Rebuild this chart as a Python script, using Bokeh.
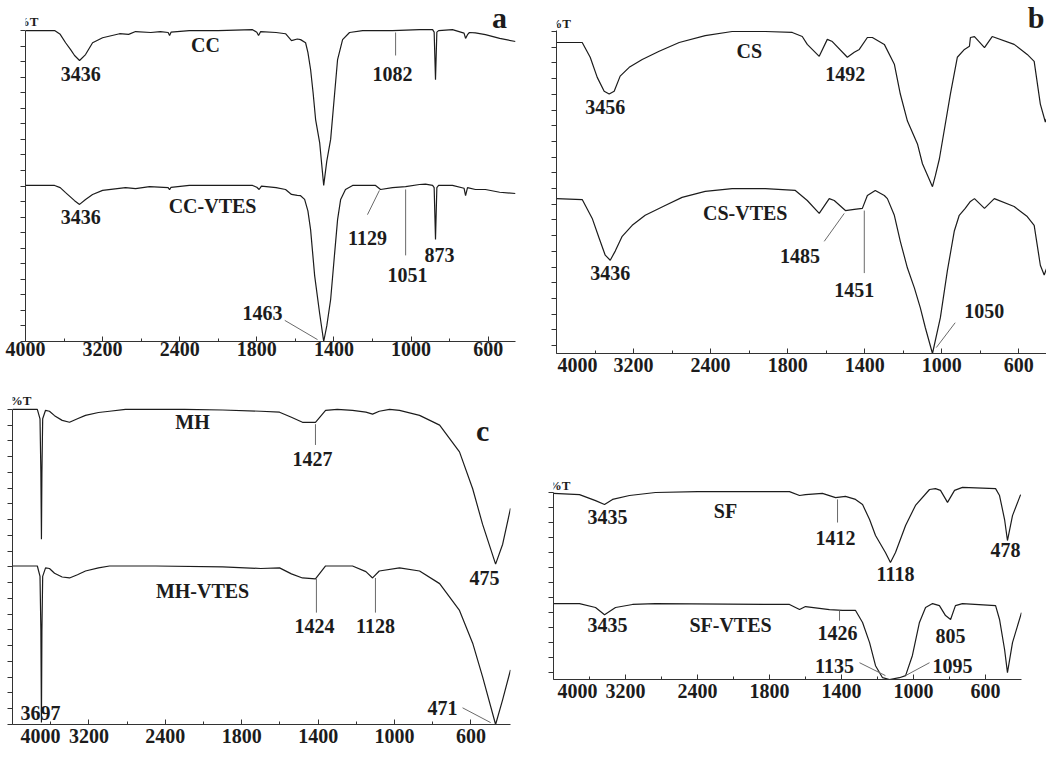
from bokeh.plotting import figure
from bokeh.models import Range1d, FixedTicker, CustomJSTickFormatter, Label, Spacer
from bokeh.layouts import row, column
from bokeh.embed import file_html
from bokeh.resources import INLINE

# ---------------- data (wavenumber cm-1, transmittance in panel units) ----------------
# Panel a: CC and CC-VTES
cc_wn = [4000, 3698, 3640, 3584, 3530, 3491, 3439, 3377, 3304, 3200, 3024, 2930, 2858, 2700, 2600, 2520,
         2505, 2490, 2300, 2000, 1822, 1800, 1791, 1780, 1700, 1651, 1620, 1590, 1573, 1547, 1535, 1521,
         1508, 1495, 1474, 1453, 1437, 1417, 1396, 1381, 1355, 1319, 1251, 1096, 956, 888, 880, 873, 866,
         857, 785, 725, 717, 707, 697, 666, 614, 540, 458]
cc_t = [100, 100, 98.8, 96.1, 93.8, 92, 90.4, 92.3, 96.1, 97.7, 99, 98.8, 99.7, 99.4, 99.7, 99.4,
        98.4, 99.5, 100, 100, 100.3, 99.5, 98.4, 99.7, 99.4, 99, 96.8, 97.3, 97.1, 96.1, 93, 87.5,
        80, 71.4, 64, 50.2, 58, 65, 80, 90.7, 97.1, 99.4, 100, 100, 100.3, 100.3, 99.5, 84.2, 99.5,
        100, 100.3, 99.2, 97.5, 98.7, 99.4, 99.3, 98.7, 97.5, 96.5]
ccv_wn = [4000, 3698, 3640, 3584, 3491, 3439, 3377, 3304, 3200, 2962, 2858, 2713, 2520, 2505, 2490, 2300,
          2000, 1822, 1800, 1788, 1776, 1700, 1651, 1620, 1590, 1573, 1552, 1535, 1521, 1500, 1474, 1453,
          1437, 1417, 1396, 1381, 1365, 1340, 1303, 1251, 1184, 1158, 1096, 1028, 956, 925, 888, 880, 873,
          866, 857, 785, 725, 717, 707, 666, 614, 540, 458]
ccv_t = [50.2, 50.2, 49.5, 47.9, 45.3, 44.1, 45.7, 47.3, 48.6, 49.5, 49.2, 49.8, 49.5, 48.8, 49.6, 50.2,
         50.2, 50.2, 49.6, 48.9, 50.0, 49.5, 48.9, 47.3, 47.0, 46.9, 45.7, 42, 36, 21.2, 9, 0,
         5, 13.5, 28.6, 39.2, 45.7, 48.9, 50.2, 50.2, 50.2, 48.9, 49.5, 49.8, 50.5, 50.6, 50.2, 49.5, 32.8,
         49.5, 50.2, 50.2, 49.3, 46.9, 49.5, 48.9, 48.9, 48, 47.6]

# Panel b: CS and CS-VTES
cs_wn = [4000, 3733, 3650, 3577, 3505, 3453, 3401, 3339, 3245, 3110, 2934, 2726, 2456, 2176, 1916,
         1776, 1724, 1698, 1636, 1594, 1568, 1490, 1454, 1428, 1386, 1360, 1298, 1246, 1215, 1178,
         1126, 1100, 1048, 1033, 1012, 955, 919, 882, 856, 851, 830, 778, 738, 624, 556,
         520, 488, 462, 436, 415]
cs_t = [96.5, 96.5, 91.8, 85.4, 81, 80.1, 81, 85.8, 88.6, 91.1, 93.7, 96.5, 98.7, 100, 100,
        99.7, 98.4, 95.9, 92.1, 97.5, 96.8, 91.8, 93.4, 94.3, 98.1, 98.1, 95.9, 89.6, 80.1, 71.5,
        64.2, 57.9, 50.6, 54.1, 59.5, 80.1, 91.8, 94.3, 95.3, 98.1, 98.4, 94.9, 98.4, 95.9, 92.7,
        90.5, 76.9, 71.2, 75.9, 80.1]
csv_wn = [4000, 3733, 3629, 3557, 3494, 3442, 3390, 3318, 3214, 3079, 2872, 2696, 2456, 2176, 1916,
          1760, 1698, 1636, 1584, 1558, 1500, 1454, 1412, 1386, 1345, 1298, 1282, 1246, 1215, 1178,
          1142, 1111, 1085, 1048, 1007, 971, 935, 909, 878, 851, 830, 778, 727, 624, 556,
          520, 488, 468, 436, 415]
csv_t = [46.8, 46.5, 40.5, 34.2, 28.8, 27.2, 30.1, 34.8, 38.3, 41.5, 44.6, 47.2, 49.1, 50, 50,
         49.4, 46.2, 42.1, 46.8, 46.2, 43, 43.4, 43.7, 47.8, 49.4, 47.8, 46.8, 41.5, 33.2, 24.7,
         18.4, 12, 5.7, -2.5, 8.9, 23.7, 36.4, 41.5, 43.7, 45.9, 46.8, 43.7, 46.8, 44.3, 41.1,
         38.3, 25.6, 22.5, 27.8, 32]

# Panel c: MH and MH-VTES
mh_wn = [4000, 3740, 3712, 3703, 3697, 3692, 3684, 3654, 3613, 3560, 3480, 3403, 3320, 3236, 3100,
         2984, 2817, 2500, 2200, 1900, 1700, 1602, 1540, 1482, 1414, 1361, 1300, 1220, 1150, 1115,
         1080, 1026, 974, 869, 764, 660, 591, 539, 471, 434, 393]
mh_t = [100, 100, 97, 80, 58.8, 80, 97, 99.7, 99.4, 98, 96.5, 95.9, 97, 98.1, 99,
        99.4, 100, 100, 100, 99.8, 99.4, 99.1, 97.5, 95.9, 95.9, 99.7, 100, 99.7, 99.1, 98.5,
        99.4, 100, 99.7, 98.1, 95, 86.5, 74.8, 63.5, 50.9, 57.2, 68.6]
mhv_wn = [4000, 3740, 3712, 3703, 3697, 3692, 3684, 3654, 3613, 3560, 3480, 3403, 3320, 3236, 3100,
          2984, 2500, 1900, 1700, 1602, 1540, 1482, 1414, 1361, 1300, 1220, 1150, 1115, 1080, 974,
          869, 764, 660, 591, 539, 471, 434, 393]
mhv_t = [50.3, 50.3, 47, 30, 0.6, 30, 47, 49.7, 49.5, 48, 46.8, 46.5, 47.5, 48.7, 49.7,
         50.3, 50.3, 50, 49.5, 49.7, 47.8, 46.5, 46.2, 50.3, 50.3, 50.3, 48.5, 46.5, 48.7, 49.7,
         48.7, 44.7, 36.2, 25.8, 15.1, 0, 7.9, 17.3]

# Panel d: SF and SF-VTES
sf_wn = [4000, 3711, 3533, 3433, 3344, 3156, 2867, 2400, 1689, 1633, 1600, 1506, 1433, 1378, 1322,
         1283, 1244, 1211, 1156, 1128, 1100, 1044, 989, 911, 878, 850, 811, 772, 728, 544,
         522, 494, 478, 450, 405]
sf_t = [99.7, 99.3, 97.3, 96, 97.7, 99, 100, 100.3, 100.3, 99, 99.3, 99.7, 98.3, 98.7, 97.7,
        96, 91, 85.7, 80, 76.7, 80, 89, 95.7, 101, 101.3, 100.7, 96.7, 100.7, 101.7, 101.3,
        99, 91, 84, 92.3, 99.3]
sfv_wn = [4000, 3711, 3533, 3433, 3311, 3122, 2867, 1689, 1633, 1600, 1467, 1394, 1322, 1283, 1244,
          1211, 1172, 1133, 1078, 1044, 1006, 967, 933, 894, 856, 822, 794, 767, 728, 544,
          522, 494, 478, 450, 400]
sfv_t = [63, 63, 61.7, 59.3, 61.7, 62.7, 63, 62.7, 61, 62, 61, 60.7, 60.7, 56.7, 50,
         42.3, 38.3, 37.7, 38.3, 39, 45.7, 56.7, 61.7, 63, 62.3, 59, 57.7, 62.3, 63, 62.3,
         57.7, 47.7, 40, 50, 60]

# axis tick labels (wavenumber)
xtick_wn = [4000, 3200, 2400, 1800, 1400, 1000, 600]
xminor_wn = [3600, 2800, 2000, 1600, 1200, 800]

# annotation texts per panel: (text, wavenumber, y)
labels_a = [("CC", 2132, 95.5), ("3436", 3428, 85.9), ("1082", 1096, 85.9), ("CC-VTES", 2059, 43.7),
            ("3436", 3428, 40.2), ("1129", 1226, 33.4), ("1051", 1018, 21.5), ("873", 852, 27.7),
            ("1463", 1770, 9.3)]
labels_b = [("CS", 1999, 93.7), ("3456", 3493, 76), ("1492", 1501, 86.4), ("CS-VTES", 2040, 42.1),
            ("3436", 3441, 23.1), ("1485", 1736, 28.5), ("1451", 1454, 17.7), ("1050", 779, 11.1)]
labels_c = [("MH", 2115, 95.9), ("1427", 1429, 84.3), ("475", 529, 46.5), ("MH-VTES", 2010, 42.5),
            ("1424", 1419, 31.4), ("1128", 1100, 31.4), ("3697", 3707, 3.8), ("471", 749, 5.3)]
labels_d = [("3435", 3400, 91.7), ("SF", 2089, 94), ("1412", 1433, 85), ("1118", 1100, 72.7),
            ("478", 489, 81), ("3435", 3400, 56), ("SF-VTES", 2033, 56), ("1426", 1422, 53.3),
            ("805", 794, 52.3), ("1135", 1439, 42.3), ("1095", 783, 42.3)]

# leader lines: (wn0, y0, wn1, y1)
leaders_a = [(1080, 99.4, 1080, 92), (1164, 48.6, 1226, 40.8), (1028, 48.9, 1028, 27.7),
             (1655, 6.8, 1485, 0.6)]
leaders_b = [(1610, 33.2, 1506, 42.1), (1402, 43, 1402, 23.1), (930, 7.3, 1028, -0.6)]
leaders_c = [(1414, 95.3, 1414, 88.7), (1409, 46.2, 1409, 35.5), (1100, 46.5, 1100, 35.5),
             (644, 5.3, 497, 0.6)]
leaders_d = [(1422, 97.7, 1422, 90), (1411, 60.7, 1411, 57.3), (1300, 43.3, 1156, 39),
             (911, 43.3, 1044, 39)]

FONT = "Liberation Serif"
INK = "#1c1c1c"
LEAD = "#6a6a6a"


def tx(w):
    """Instrument abscissa: scale doubles below 2000 cm-1."""
    w = float(w)
    return w if w >= 2000 else 2.0 * w - 2000.0


def make_panel(width, height, borders, x_end, y_range, y_axis_span, y_ticks, spectra, labels,
               leaders, letter, letter_pos, pct_pos, pad_4000=0):
    left, right, top, bottom = borders
    p = figure(width=width, height=height, output_backend="svg", toolbar_location=None,
               title=None, x_range=Range1d(4000, tx(x_end)), y_range=Range1d(*y_range),
               min_border_left=left, min_border_right=right, min_border_top=top,
               min_border_bottom=bottom, outline_line_color=None,
               background_fill_color="white", border_fill_color="white")
    p.grid.visible = False

    pad_js = "\\u2007" * pad_4000
    p.xaxis.ticker = FixedTicker(ticks=[tx(w) for w in xtick_wn],
                                 minor_ticks=[tx(w) for w in xminor_wn])
    p.xaxis.formatter = CustomJSTickFormatter(
        code="var w = tick >= 2000 ? tick : (tick + 2000) / 2; var s = String(Math.round(w));"
             " return (w == 4000) ? '" + pad_js + "' + s : s;")
    p.xaxis.major_label_text_font = FONT
    p.xaxis.major_label_text_font_style = "bold"
    p.xaxis.major_label_text_font_size = "20px"
    p.xaxis.major_label_text_color = INK
    p.xaxis.major_label_standoff = 0
    p.xaxis.major_tick_in = 5
    p.xaxis.major_tick_out = 0
    p.xaxis.minor_tick_in = 3
    p.xaxis.minor_tick_out = 0
    p.xaxis.axis_line_color = "#333333"
    p.xaxis.major_tick_line_color = "#333333"
    p.xaxis.minor_tick_line_color = "#333333"

    p.yaxis.ticker = FixedTicker(ticks=y_ticks, minor_ticks=[])
    p.yaxis.formatter = CustomJSTickFormatter(code="return '';")
    p.yaxis.bounds = y_axis_span
    p.yaxis.major_label_standoff = 0
    p.yaxis.major_tick_out = 5
    p.yaxis.major_tick_in = 0
    p.yaxis.minor_tick_out = 0
    p.yaxis.minor_tick_in = 0
    p.yaxis.axis_line_color = "#333333"
    p.yaxis.major_tick_line_color = "#333333"

    for wn, t in spectra:
        p.line(x=[tx(w) for w in wn], y=t, line_color=INK, line_width=1.2)

    if leaders:
        p.segment(x0=[tx(l[0]) for l in leaders], y0=[l[1] for l in leaders],
                  x1=[tx(l[2]) for l in leaders], y1=[l[3] for l in leaders],
                  line_color=LEAD, line_width=1)

    def lab(text, w, y, size):
        p.add_layout(Label(x=tx(w), y=y, text=text, text_font=FONT, text_font_style="bold",
                           text_font_size=size, text_align="center", text_baseline="middle",
                           text_color=INK))

    for text, w, y in labels:
        lab(text, w, y, "20px")
    lab(letter, letter_pos[0], letter_pos[1], "30px")
    lab("%T", pct_pos[0], pct_pos[1], "13px")
    return p


yt100 = list(range(0, 101, 5))

pa = make_panel(537, 367, (25, 22, 4, 26), 458, (0, 108.4), (0, 100), yt100,
                [(cc_wn, cc_t), (ccv_wn, ccv_t)], labels_a, leaders_a,
                "a", (541, 104.2), (3978, 102.9), pad_4000=0)
pb = make_panel(509, 379, (19, 0, 4, 26), 456, (-2.5, 108.6), (-2.5, 100.3), yt100,
                [(cs_wn, cs_t), (csv_wn, csv_t)], labels_b, leaders_b,
                "b", (510, 104.4), (3962, 102.5), pad_4000=2)
pc = make_panel(537, 370, (12, 27, 10, 22), 393, (0, 106.3), (0, 100), yt100,
                [(mh_wn, mh_t), (mhv_wn, mhv_t)], labels_c, leaders_c,
                "c", (539, 93.4), (3916, 102.8), pad_4000=2)
pd = make_panel(509, 259, (16, 25, 4, 26), 400, (37.7, 114), (37.7, 100), list(range(40, 101, 5)),
                [(sf_wn, sf_t), (sfv_wn, sfv_t)], labels_d, leaders_d,
                "d", (339, 108.3), (3933, 102.3), pad_4000=2)

top_row = row(column(pa), column(pb))
bottom_row = row(column(pc), column(Spacer(width=509, height=67), pd))
layout = column(top_row, bottom_row)

open("out.html", "w").write(file_html(layout, INLINE))
